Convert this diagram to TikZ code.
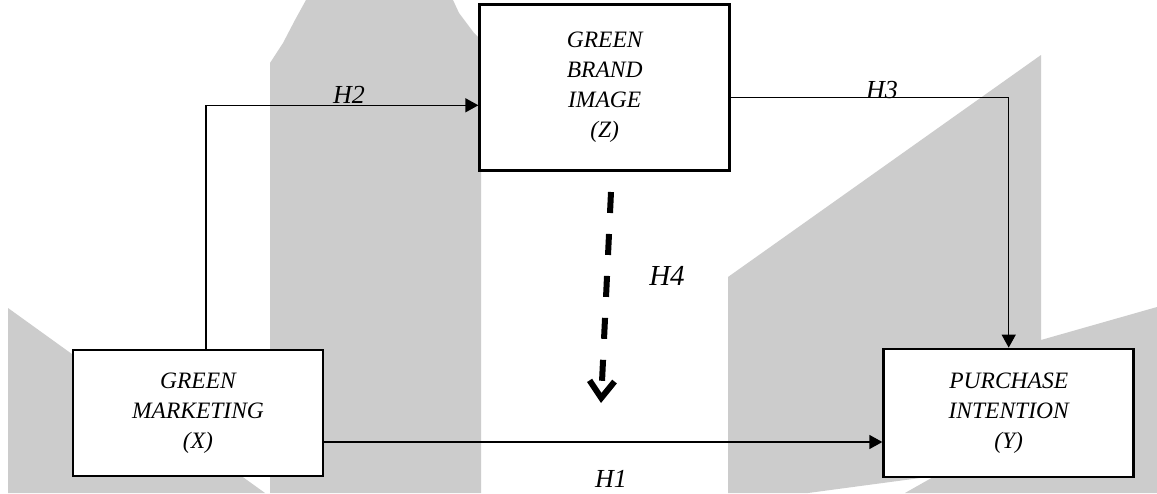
\documentclass[tikz,border=0pt]{standalone}
\usepackage{fontspec}
\setmainfont{Liberation Serif}
\usetikzlibrary{arrows.meta, positioning}
\tikzset{
  box/.style={draw, line width=2.7pt, fill=white, align=center, minimum width=250pt, font=\fontsize{23.5}{30}\selectfont\itshape},
  hlabel/.style={font=\fontsize{26}{30}\selectfont\itshape, inner sep=0pt},
  arrow/.style={-{Triangle[length=13pt, width=14pt]}, line width=1.3pt},
  dasharrow/.style={-{Straight Barb[length=17pt, width=25pt]}, line width=6pt, dash pattern=on 21pt off 21pt},
  wmark/.style={fill=black!20, draw=none}
}

\begin{document}
\begin{tikzpicture}[x=1pt, y=-1pt]
    \useasboundingbox (0,0) rectangle (1157,493);
    \fill[white] (0,0) rectangle (1157,493);

    % watermark behind the model
    \fill[wmark] (270,493) -- (270,63) -- (283,43) -- (295,20) -- (306,0) -- (453,0) -- (459,13) -- (474,33) -- (481,40) -- (481,493) -- cycle;
    \fill[wmark] (8,308) -- (265,493) -- (8,493) -- cycle;
    \fill[wmark] (728,493) -- (728,277) -- (1041,55) -- (1041,340) -- (1157,307) -- (1157,493) -- (905,493) -- (935,476) -- (808,493) -- cycle;

    \node[box, minimum height=126pt] (gm) at (198,413) {GREEN\\MARKETING\\(X)};
    \node[box, minimum height=166pt, above right=177pt and 154pt of gm] (gbi) {GREEN\\BRAND\\IMAGE\\(Z)};
    \node[box, minimum height=128pt, right=558pt of gm] (pi) {PURCHASE\\INTENTION\\(Y)};

    \draw[arrow] ([xshift=8pt]gm.north) |- ([yshift=-18pt]gbi.west);
    \draw[arrow] ([yshift=-10pt]gbi.east) -| (pi.north);
    \draw[arrow] ([yshift=-29pt]gm.east) -- ([yshift=-29pt]pi.west);

    \coordinate (h4s) at (611,192);
    \coordinate (h4e) at (601,403);
    \draw[dasharrow] (h4s) -- (h4e);

    \node[hlabel] (h1) at (611,479) {H1};
    \node[hlabel] (h2) at (349,95) {H2};
    \node[hlabel] (h3) at (882,90) {H3};
    \node[hlabel, font=\fontsize{29}{34}\selectfont\itshape] (h4) at (667,276) {H4};
\end{tikzpicture}
\end{document}
